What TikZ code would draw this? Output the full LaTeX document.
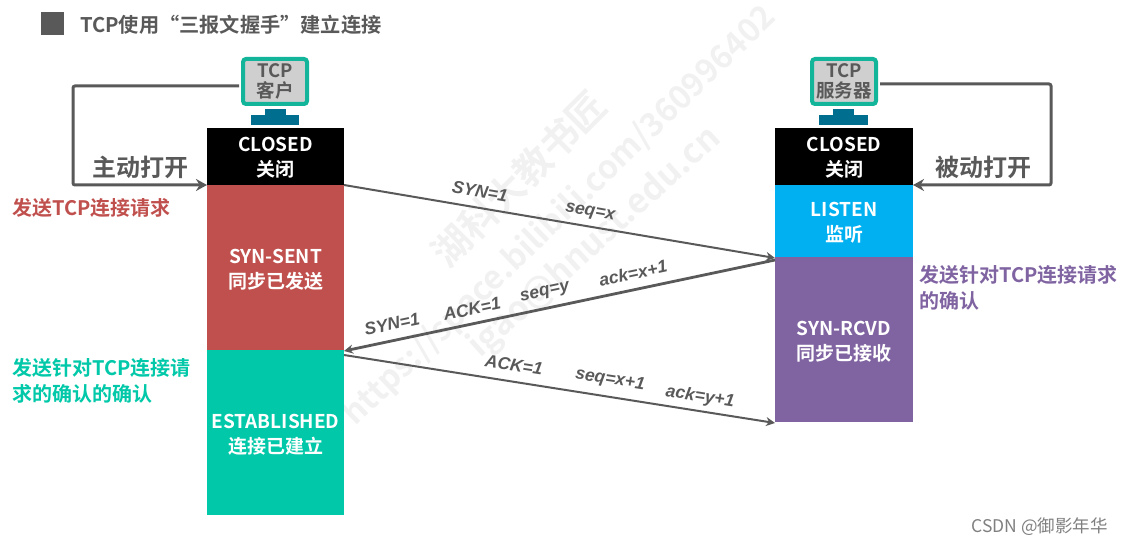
\documentclass[tikz,border=0pt]{standalone}
\usepackage{fontspec}
\setmainfont{Noto Sans CJK SC}[BoldFont={Noto Sans CJK SC Bold}]
\newfontfamily\lab{Liberation Sans}
\usetikzlibrary{arrows.meta}
\definecolor{gtxt}{HTML}{595959}
\definecolor{wm}{HTML}{F1F1F1}
\definecolor{cred}{HTML}{C0504D}
\definecolor{cgreen}{HTML}{00C8A8}
\definecolor{cpurple}{HTML}{8064A2}
\definecolor{cblue}{HTML}{00B0F0}
\definecolor{cteal}{HTML}{12B59A}
\definecolor{cstand}{HTML}{006F8F}
\definecolor{cscreen}{HTML}{CFCFCF}
\tikzset{
  x=1pt,y=-1pt,
  block/.style={anchor=north west,inner sep=0pt,outer sep=0pt,draw=none},
  statelab/.style={text=white,align=center,inner sep=0pt,font=\fontsize{19}{25}\selectfont\bfseries},
  monitor/.style={anchor=north west,inner sep=0pt,outer sep=0pt,minimum width=64pt,minimum height=45pt,draw=cteal,line width=4pt,rounded corners=3pt,fill=cscreen,text=gtxt,font=\fontsize{18.5}{20}\selectfont\bfseries,align=center},
  standpart/.style={inner sep=0pt,outer sep=0pt,fill=cstand,anchor=north west},
  bigline/.style={draw=gtxt,line width=3pt,rounded corners=2pt},
  msg/.style={draw=gtxt,-{Stealth[length=9pt,width=9pt]}},
  msglab/.style={text=gtxt,font=\lab\fontsize{17.5}{20}\selectfont\bfseries\itshape},
  note/.style={anchor=north west,inner sep=0pt,align=left,font=\fontsize{20}{26}\selectfont\bfseries},
  openlab/.style={text=gtxt,inner sep=0pt,font=\fontsize{24}{26}\selectfont\bfseries},
  wmark/.style={text=wm,inner sep=0pt,font=\fontsize{32.5}{36}\selectfont\bfseries}
}
\begin{document}
\begin{tikzpicture}
\useasboundingbox (0,0) rectangle (1123,545);
% watermark
\node[wmark,rotate=45] (wm1) at (519,179) {\fontsize{38}{40}\selectfont 湖科大教书匠};
\node[wmark,rotate=44] (wm2) at (560,216) {https://space.bilibili.com/360996402};
\node[wmark,rotate=42,font=\fontsize{34}{36}\selectfont\bfseries] (wm3) at (595,243) {igao@hnust.edu.cn};
% title
\node[inner sep=0pt,outer sep=0pt,fill=gtxt,minimum size=23pt,anchor=north west] (sq) at (41,12) {};
\node[anchor=west,inner sep=0pt,text=gtxt,font=\fontsize{20.2}{23}\selectfont\bfseries] (title) at (80,25) {TCP使用“三报文握手”建立连接};
% left column
\node[block,fill=black,minimum width=137pt,minimum height=57pt] (lc) at (207,128) {};
\node[block,fill=cred,minimum width=137pt,minimum height=165pt] (ls) at (207,185) {};
\node[block,fill=cgreen,minimum width=137pt,minimum height=165pt] (le) at (207,350) {};
\node[statelab] (lct) at (275.5,158) {CLOSED\\关闭};
\node[statelab] (lst) at (275.5,269.5) {SYN-SENT\\同步已发送};
\node[statelab] (let) at (275.5,435) {ESTABLISHED\\连接已建立};
% right column
\node[block,fill=black,minimum width=138pt,minimum height=57pt] (rc) at (775,128) {};
\node[block,fill=cblue,minimum width=138pt,minimum height=72pt] (rl) at (775,185) {};
\node[block,fill=cpurple,minimum width=138pt,minimum height=165pt] (rs) at (775,257) {};
\node[statelab] (rct) at (844,158) {CLOSED\\关闭};
\node[statelab] (rlt) at (844,223) {LISTEN\\监听};
\node[statelab] (rst) at (844,342) {SYN-RCVD\\同步已接收};
% monitors
\node[monitor] (lm) at (243,59) {TCP\\客户};
\node[standpart,minimum width=21pt,minimum height=7pt] (ln) at (265,109) {};
\node[standpart,minimum width=48pt,minimum height=10pt] (lb) at (251,115) {};
\node[monitor] (rm) at (812,59) {TCP\\服务器};
\node[standpart,minimum width=21pt,minimum height=7pt] (rn) at (833,109) {};
\node[standpart,minimum width=49pt,minimum height=10pt] (rb) at (819,115) {};
% open arrows
\coordinate (lt) at (73,86);
\coordinate (lbm) at (73,185);
\coordinate (rt) at (1051,84);
\coordinate (rbm) at (1051,185);
\coordinate (ls0) at (239,86);
\coordinate (rs0) at (880,84);
\draw[bigline,-{Stealth[length=11pt,width=12pt]}] (ls0) -- (lt) -- (lbm) -- (ls.north west);
\draw[bigline,-{Stealth[length=11pt,width=12pt]}] (rs0) -- (rt) -- (rbm) -- (rl.north east);
\node[openlab] (zd) at (140,167) {主动打开};
\node[openlab] (bd) at (983,167) {被动打开};
% messages
\coordinate (m1a) at (344,185);
\coordinate (m1b) at (775,258);
\coordinate (m2a) at (775,260);
\coordinate (m2b) at (344,351);
\coordinate (m3a) at (344,355);
\coordinate (m3b) at (775,423);
\draw[msg,line width=2pt] (m1a) -- (m1b);
\draw[msg,line width=2.8pt] (m2a) -- (m2b);
\draw[msg,line width=2pt] (m3a) -- (m3b);
\node[msglab,rotate=-10] (a1) at (480,191) {SYN=1};
\node[msglab,rotate=-10] (a2) at (590,213) {seq=x};
\node[msglab,rotate=12] (b1) at (392,324) {SYN=1};
\node[msglab,rotate=12] (b2) at (472,309) {ACK=1};
\node[msglab,rotate=12] (b3) at (545,293) {seq=y};
\node[msglab,rotate=12] (b4) at (633,273) {ack=x+1};
\node[msglab,rotate=-9] (c1) at (514,365) {ACK=1};
\node[msglab,rotate=-9] (c2) at (610,380) {seq=x+1};
\node[msglab,rotate=-9] (c3) at (700,397) {ack=y+1};
% notes
\node[note,text=cred] (n1) at (12,198) {发送TCP连接请求};
\node[note,text=cpurple] (n2) at (919,265) {发送针对TCP连接请求\\的确认};
\node[note,text=cgreen] (n3) at (12,358) {发送针对TCP连接请\\求的确认的确认};
\node[anchor=east,inner sep=0pt,text=gray,font=\fontsize{17.5}{20}\selectfont] (csdn) at (1108,527) {CSDN @御影年华};
\end{tikzpicture}
\end{document}
